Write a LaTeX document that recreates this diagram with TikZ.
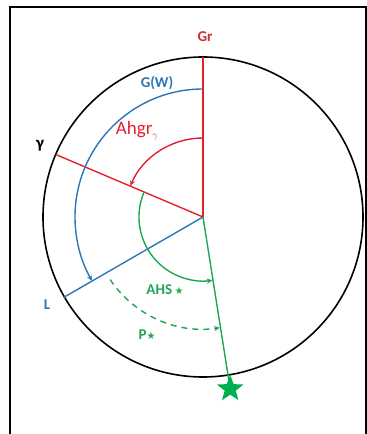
\documentclass[tikz,border=0pt]{standalone}
\usepackage{fontspec}
\setmainfont{Carlito}
\newfontfamily\symfont{DejaVu Sans}
\usetikzlibrary{arrows.meta,shapes.geometric}
\definecolor{cred}{RGB}{228,32,44}
\definecolor{tred}{RGB}{205,45,55}
\definecolor{cblue}{RGB}{46,117,182}
\definecolor{cgreen}{RGB}{32,165,85}
\definecolor{sgreen}{RGB}{0,176,80}
\tikzset{
  lbl/.style={font=\bfseries\fontsize{15}{15}\selectfont, inner sep=0pt},
  tip/.style={-{Stealth[length=6pt,width=5pt]}},
  ln/.style={line width=1.4pt},
}
\newcommand{\smallstar}{{\symfont\fontsize{10}{10}\selectfont ★}}
\begin{document}
\begin{tikzpicture}[x=1pt,y=1pt]
\useasboundingbox (0,0) rectangle (367,434);
\begin{scope}
\clip (0,0) rectangle (367,434);
\draw[line width=2pt] (10,-10) rectangle (366,427);
\end{scope}
\coordinate (O) at (203,217);
\path (O) ++(90:160) coordinate (Gr);
\path (O) ++(157:160) coordinate (Gam);
\path (O) ++(210:161) coordinate (Lp);
\path (O) ++(-81:174) coordinate (St);
% circle
\draw[line width=1.6pt] (O) circle[radius=160];
% lines
\draw[ln,cred] (O) -- (Gr);
\draw[ln,cred] (O) -- (Gam);
\draw[ln,cblue] (O) -- (Lp);
\draw[ln,cgreen] (O) -- (St);
% arcs
\draw[ln,cblue,tip] (O) ++(90:128) arc[start angle=90,end angle=210,radius=128];
\draw[ln,cred,tip] (O) ++(90:79) arc[start angle=90,end angle=157,radius=79];
\draw[ln,cgreen,tip] (O) ++(157:64) arc[start angle=157,end angle=278.7,radius=64];
\draw[ln,cgreen,tip,dash pattern=on 6pt off 5pt] (O) ++(214:112) arc[start angle=214,end angle=278.7,radius=112];
% star
\node[star,star points=5,star point ratio=2.4,fill=sgreen,minimum size=28pt,inner sep=0pt] (S) at (St) {};
% labels
\node[lbl,tred] (lGr) at (205,397) {Gr};
\node[lbl,cblue] (lGW) at (157,351) {G(W)};
\node[inner sep=0pt,cred,font=\fontsize{19}{19}\selectfont] (lA) at (137,303) {Ahgr\raisebox{-4pt}{\fontsize{10}{10}\selectfont$\gamma$}};
\node[lbl,black,font=\bfseries\fontsize{17}{17}\selectfont] (lg) at (40,288) {γ};
\node[lbl,cblue] (lL) at (47,129) {L};
\node[lbl,cgreen] (lAHS) at (165,144) {AHS\,\smallstar};
\node[lbl,cgreen] (lP) at (147,99) {P\smallstar};
\end{tikzpicture}
\end{document}
